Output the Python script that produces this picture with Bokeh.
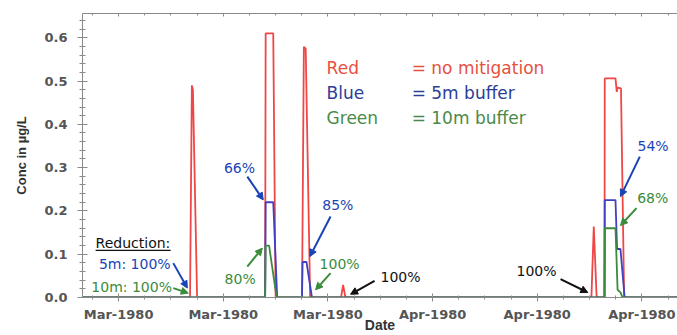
from bokeh.plotting import figure
from bokeh.models import Range1d, FixedTicker, LinearAxis, Label, Arrow, NormalHead
from bokeh.embed import file_html
from bokeh.resources import INLINE

# ---------------- data (x in days along the axis, y in ug/L) ----------------
red_t = [2.62, 6.73, 6.80, 6.84, 7.00, 9.60, 9.62, 9.91, 10.00, 11.01, 11.08, 11.15, 11.32,
         12.50, 12.58, 12.67, 22.07, 22.16, 22.27, 22.57, 22.58, 22.99, 23.04, 23.07, 23.20,
         23.32, 25.36]
red_v = [0, 0, 0.49, 0.48, 0, 0, 0.61, 0.61, 0, 0, 0.579, 0.575, 0,
         0, 0.029, 0, 0, 0.164, 0, 0, 0.506, 0.506, 0.475, 0.485, 0.483,
         0, 0]

blue_t = [2.62, 9.60, 9.62, 9.91, 10.06, 11.01, 11.03, 11.18, 11.39,
          22.57, 22.58, 22.99, 23.05, 23.18, 23.34, 25.36]
blue_v = [0, 0, 0.22, 0.22, 0, 0, 0.082, 0.082, 0,
          0, 0.225, 0.225, 0.112, 0.112, 0, 0]

green_t = [2.62, 9.60, 9.62, 9.75, 10.04, 22.57, 22.58, 22.99, 23.07, 23.18, 23.26, 25.36]
green_v = [0, 0, 0.12, 0.12, 0, 0, 0.16, 0.16, 0.018, 0.012, 0, 0]

x_tick_days = [4, 8, 12, 16, 20, 24]
x_tick_labels = ["Mar-1980", "Mar-1980", "Mar-1980", "Apr-1980", "Apr-1980", "Apr-1980"]
x_minor_days = list(range(3, 26))
y_ticks = [0.0, 0.1, 0.2, 0.3, 0.4, 0.5, 0.6]
y_tick_labels = ["0.0", "0.1", "0.2", "0.3", "0.4", "0.5", "0.6"]
y_minor = [round(0.02 * i, 2) for i in range(0, 33)]

X_MIN, X_MAX = 2.62, 25.36
Y_MIN, Y_MAX = 0.0, 0.656

RED, BLUE, GREEN = "#ef4646", "#4040c4", "#3a8c3a"
T_RED, T_BLUE, T_GREEN = "#e8503f", "#2c3c98", "#4a8a4a"
A_BLUE, A_GREEN, A_BLACK = "#1a44b4", "#3a8c3a", "#111111"

p = figure(width=677, height=335, output_backend="svg", toolbar_location=None,
           x_range=Range1d(X_MIN, X_MAX), y_range=Range1d(Y_MIN, Y_MAX),
           min_border_left=82, min_border_right=0, min_border_top=13, min_border_bottom=37)
p.xgrid.visible = False
p.ygrid.visible = False
p.outline_line_color = None
p.background_fill_color = "white"

AX = "#8a8a8a"
xa = p.xaxis[0]
xa.ticker = FixedTicker(ticks=x_tick_days, minor_ticks=x_minor_days)
xa.major_label_overrides = {d: s for d, s in zip(x_tick_days, x_tick_labels)}
xa.major_label_text_font = "DejaVu Sans"
xa.major_label_text_font_style = "bold"
xa.major_label_text_font_size = "13px"
xa.major_label_text_color = "#555555"
xa.major_label_standoff = 5
xa.axis_line_color = AX
xa.major_tick_line_color = AX
xa.minor_tick_line_color = AX
xa.major_tick_in = 4
xa.major_tick_out = 4
xa.minor_tick_in = 2
xa.minor_tick_out = 2
xa.axis_label = "Date"
xa.axis_label_text_font = "Liberation Sans"
xa.axis_label_text_font_style = "bold"
xa.axis_label_text_font_size = "14px"
xa.axis_label_text_color = "#333333"
xa.axis_label_standoff = -8

ya = p.yaxis[0]
ya.ticker = FixedTicker(ticks=y_ticks, minor_ticks=y_minor)
ya.major_label_overrides = {v: s for v, s in zip(y_ticks, y_tick_labels)}
ya.major_label_text_font = "DejaVu Sans"
ya.major_label_text_font_style = "bold"
ya.major_label_text_font_size = "13px"
ya.major_label_text_color = "#555555"
ya.major_label_standoff = 10
ya.axis_line_color = AX
ya.major_tick_line_color = AX
ya.minor_tick_line_color = AX
ya.major_tick_in = 5
ya.major_tick_out = 5
ya.minor_tick_in = 3
ya.minor_tick_out = 3
ya.axis_label = "Conc in µg/L"
ya.axis_label_text_font = "Liberation Sans"
ya.axis_label_text_font_style = "bold"
ya.axis_label_text_font_size = "13px"
ya.axis_label_text_color = "#333333"
ya.axis_label_standoff = 12

top = LinearAxis(ticker=FixedTicker(ticks=x_tick_days, minor_ticks=x_minor_days),
                 major_label_overrides={d: "" for d in x_tick_days},
                 major_label_text_font_size="8px", major_label_standoff=0,
                 major_tick_out=0, minor_tick_out=0, major_tick_in=3, minor_tick_in=2,
                 axis_line_color=AX, major_tick_line_color=AX, minor_tick_line_color=AX)
p.add_layout(top, "above")

# ---------------- series ----------------
p.line(red_t, red_v, line_color=RED, line_width=1.8)
p.line(blue_t, blue_v, line_color=BLUE, line_width=1.8)
p.line(green_t, green_v, line_color=GREEN, line_width=1.8)

# ---------------- legend-like text ----------------
def lab(x, y, text, color, size="14px", font="DejaVu Sans", style="normal", align="left"):
    p.add_layout(Label(x=x, y=y, text=text, text_color=color, text_font=font,
                       text_font_size=size, text_font_style=style, text_align=align,
                       text_baseline="alphabetic"))

for txt1, txt2, col, yy in [("Red", "= no mitigation", T_RED, 0.5308),
                            ("Blue", "= 5m buffer", T_BLUE, 0.4715),
                            ("Green", "= 10m buffer", T_GREEN, 0.4138)]:
    lab(11.95, yy, txt1, col, size="17px")
    lab(15.20, yy, txt2, col, size="17px")

# ---------------- annotations ----------------
lab(3.121, 0.1265, "Reduction:", "#111111")
p.segment(x0=[3.121], y0=[0.109], x1=[5.99], y1=[0.109], line_color="#111111", line_width=1.2)
lab(3.247, 0.0764, "5m: 100%", A_BLUE)
lab(2.957, 0.0240, "10m: 100%", A_GREEN)
lab(8.024, 0.2991, "66%", A_BLUE)
lab(8.050, 0.0418, "80%", A_GREEN)
lab(11.784, 0.2133, "85%", A_BLUE)
lab(11.681, 0.0776, "100%", A_GREEN)
lab(14.011, 0.0464, "100%", A_BLACK)
lab(19.208, 0.0610, "100%", A_BLACK)
lab(23.832, 0.3495, "54%", A_BLUE)
lab(23.820, 0.2304, "68%", A_GREEN)

arrows = [
    (6.090, 0.0794, 6.625, 0.0217, A_BLUE),
    (6.090, 0.0217, 6.663, 0.0102, A_GREEN),
    (8.918, 0.2793, 9.529, 0.2255, A_BLUE),
    (8.918, 0.0715, 9.491, 0.1140, A_GREEN),
    (12.101, 0.1870, 11.310, 0.0946, A_BLUE),
    (12.101, 0.0563, 11.528, 0.0178, A_GREEN),
    (13.782, 0.0385, 12.865, 0.0074, A_BLACK),
    (20.890, 0.0425, 21.933, 0.0115, A_BLACK),
    (23.920, 0.3254, 23.182, 0.2331, A_BLUE),
    (23.794, 0.2063, 23.182, 0.1662, A_GREEN),
]
for xs, ys, xe, ye, c in arrows:
    p.add_layout(Arrow(x_start=xs, y_start=ys, x_end=xe, y_end=ye, line_color=c, line_width=2,
                       end=NormalHead(size=7, fill_color=c, line_color=c, line_width=1)))

open("out.html", "w").write(file_html(p, INLINE))
